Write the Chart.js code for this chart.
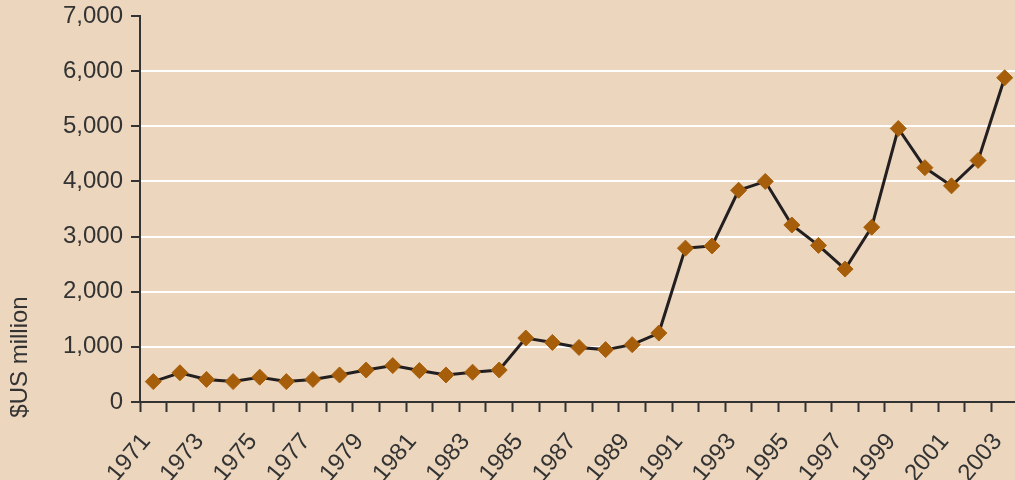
<!DOCTYPE html>
<html>
<head>
<meta charset="utf-8">
<script src="https://cdn.jsdelivr.net/npm/chart.js@4/dist/chart.umd.min.js"></script>
<style>
  html, body { margin: 0; padding: 0; overflow: hidden; background: #ecd6bd; }
  #wrap { width: 1027px; height: 480px; }
</style>
</head>
<body>
<div id="wrap"><canvas id="chart" width="1027" height="480"></canvas></div>
<script>
const years = [
  "1971", "1972", "1973", "1974", "1975", "1976", "1977", "1978", "1979", "1980",
  "1981", "1982", "1983", "1984", "1985", "1986", "1987", "1988", "1989", "1990",
  "1991", "1992", "1993", "1994", "1995", "1996", "1997", "1998", "1999", "2000",
  "2001", "2002", "2003",
];
const values = [
  370, 530, 410, 370, 450, 370, 410, 490, 580, 660,
  570, 490, 540, 580, 1160, 1080, 990, 950, 1040, 1250,
  2790, 2830, 3840, 4000, 3210, 2840, 2410, 3170, 4960, 4250,
  3920, 4380, 5880,
];
const yTitle = "$US million";

const ink = "#333333";
const font = { family: "'Liberation Sans', Arial, sans-serif", size: 24 };

// vertical axis title sits low, near the bottom of the axis
const titlePlugin = {
  id: "yTitle",
  afterDraw(chart) {
    const ctx = chart.ctx;
    const area = chart.chartArea;
    ctx.save();
    ctx.translate(20, area.bottom - 45);
    ctx.rotate(-Math.PI / 2);
    ctx.font = `${font.size}px ${font.family}`;
    ctx.fillStyle = ink;
    ctx.textAlign = "center";
    ctx.textBaseline = "middle";
    ctx.fillText(yTitle, 0, 0);
    ctx.restore();
  },
};

new Chart(document.querySelector("#chart"), {
  type: "line",
  data: {
    labels: years,
    datasets: [
      {
        data: values,
        borderColor: "#231f20",
        borderWidth: 3,
        tension: 0,
        pointStyle: "rectRot",
        pointRadius: 8,
        pointBackgroundColor: "#a65e0a",
        pointBorderColor: "#a65e0a",
        pointBorderWidth: 1,
      },
    ],
  },
  options: {
    responsive: false,
    animation: false,
    layout: { padding: { top: 16, left: 0, right: 0, bottom: 0 } },
    plugins: {
      legend: { display: false },
      tooltip: { enabled: false },
    },
    scales: {
      x: {
        offset: true,
        grid: {
          offset: true,
          drawOnChartArea: false,
          drawTicks: true,
          tickLength: 10,
          tickColor: ink,
          tickWidth: 2,
        },
        border: { color: ink, width: 2 },
        ticks: {
          autoSkip: false,
          minRotation: 50,
          maxRotation: 50,
          padding: 16,
          labelOffset: -7,
          color: ink,
          font: font,
          callback: (value, index) => (index % 2 === 0 ? years[index] : ""),
        },
        afterFit: (scale) => {
          scale.height = 78;
          scale.paddingLeft = 0;
          scale.paddingRight = 0;
        },
      },
      y: {
        min: 0,
        max: 7000,
        grid: {
          color: (c) => (c.tick && c.tick.value > 0 && c.tick.value < 7000 ? "#ffffff" : "rgba(0,0,0,0)"),
          lineWidth: 2,
          tickLength: 9,
          tickColor: ink,
          tickWidth: 2,
        },
        border: { color: ink, width: 2 },
        ticks: {
          stepSize: 1000,
          padding: 8,
          color: ink,
          font: font,
          callback: (value) => value.toLocaleString("en-US"),
        },
        afterFit: (scale) => {
          scale.width = 140;
          scale.paddingTop = 0;
          scale.paddingBottom = 0;
        },
      },
    },
  },
  plugins: [titlePlugin],
});
</script>
</body>
</html>
